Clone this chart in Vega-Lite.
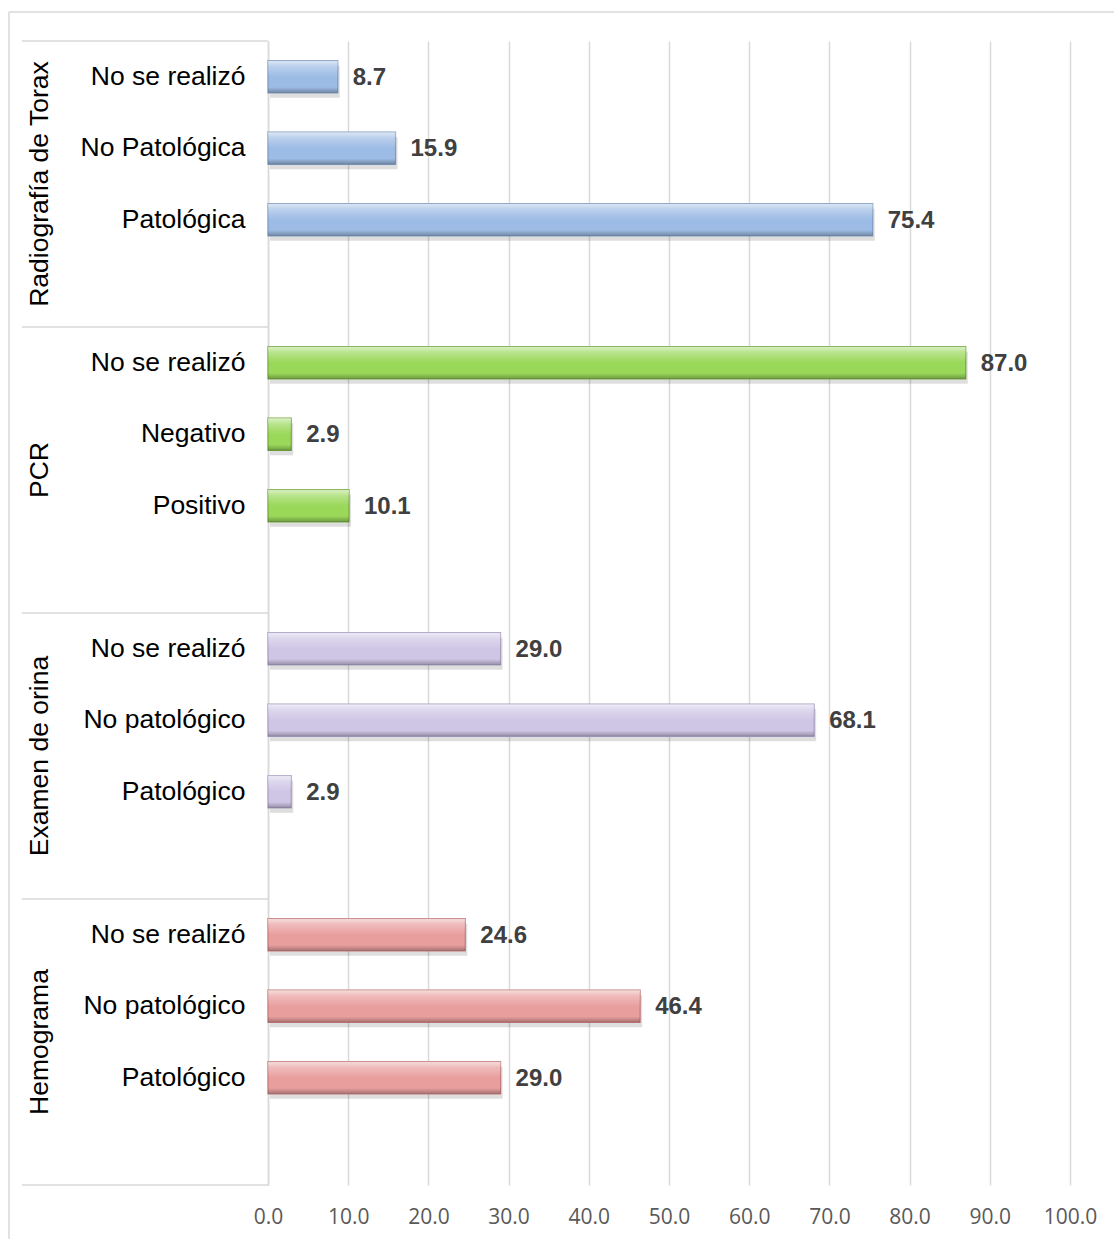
{
  "$schema": "https://vega.github.io/schema/vega-lite/v6.json",
  "autosize": "none",
  "width": 802,
  "height": 1144,
  "padding": {"left": 268, "top": 41, "right": 44, "bottom": 54},
  "background": "white",
  "config": {
    "view": {"stroke": null},
    "font": "Liberation Sans"
  },
  "datasets": {
    "bars": [
      {"group": "Radiografía de Torax", "slot": "Radiografía de Torax · No se realizó", "value": 8.7},
      {"group": "Radiografía de Torax", "slot": "Radiografía de Torax · No Patológica", "value": 15.9},
      {"group": "Radiografía de Torax", "slot": "Radiografía de Torax · Patológica", "value": 75.4},
      {"group": "PCR", "slot": "PCR · No se realizó", "value": 87.0},
      {"group": "PCR", "slot": "PCR · Negativo", "value": 2.9},
      {"group": "PCR", "slot": "PCR · Positivo", "value": 10.1},
      {"group": "Examen de orina", "slot": "Examen de orina · No se realizó", "value": 29.0},
      {"group": "Examen de orina", "slot": "Examen de orina · No patológico", "value": 68.1},
      {"group": "Examen de orina", "slot": "Examen de orina · Patológico", "value": 2.9},
      {"group": "Hemograma", "slot": "Hemograma · No se realizó", "value": 24.6},
      {"group": "Hemograma", "slot": "Hemograma · No patológico", "value": 46.4},
      {"group": "Hemograma", "slot": "Hemograma · Patológico", "value": 29.0}
    ],
    "groups": [
      {"group": "Radiografía de Torax", "first": "Radiografía de Torax · No se realizó", "mid": "Radiografía de Torax · No Patológica"},
      {"group": "PCR", "first": "PCR · No se realizó", "mid": "PCR · Negativo"},
      {"group": "Examen de orina", "first": "Examen de orina · No se realizó", "mid": "Examen de orina · No patológico"},
      {"group": "Hemograma", "first": "Hemograma · No se realizó", "mid": "Hemograma · No patológico"}
    ]
  },
  "layer": [
    {
      "data": {"name": "bars"},
      "encoding": {
        "y": {
          "field": "slot",
          "type": "nominal",
          "title": null,
          "scale": {
            "domain": [
              "Radiografía de Torax · No se realizó", "Radiografía de Torax · No Patológica", "Radiografía de Torax · Patológica", "Radiografía de Torax · ",
              "PCR · No se realizó", "PCR · Negativo", "PCR · Positivo", "PCR · ",
              "Examen de orina · No se realizó", "Examen de orina · No patológico", "Examen de orina · Patológico", "Examen de orina · ",
              "Hemograma · No se realizó", "Hemograma · No patológico", "Hemograma · Patológico", "Hemograma · "
            ],
            "paddingInner": 0,
            "paddingOuter": 0
          },
          "axis": {
            "labelExpr": "split(datum.value, ' · ')[1]",
            "labelFontSize": 26.5,
            "labelColor": "#000000",
            "labelPadding": 23,
            "labelFont": "Liberation Sans",
            "ticks": false,
            "domain": true,
            "domainColor": "#d9d9d9",
            "domainWidth": 1.5,
            "grid": false
          }
        },
        "x": {
          "field": "value",
          "type": "quantitative",
          "title": null,
          "scale": {"domain": [0, 100], "nice": false},
          "axis": {
            "values": [0, 10, 20, 30, 40, 50, 60, 70, 80, 90, 100],
            "format": ".1f",
            "labelFlush": false,
            "grid": true,
            "gridColor": "#d9d9d9",
            "gridWidth": 1.5,
            "domain": false,
            "ticks": false,
            "labelFont": "Open Sans",
            "labelFontSize": 21,
            "labelColor": "#595959",
            "labelPadding": 21
          }
        }
      },
      "layer": [
        {
          "mark": {"type": "bar", "height": {"band": 0.45}, "color": "#000000", "opacity": 0.13, "yOffset": 5, "xOffset": 2}
        },
        {
          "mark": {"type": "bar", "height": {"band": 0.45}, "strokeWidth": 1.2},
          "encoding": {
            "fill": {
              "field": "group",
              "type": "nominal",
              "legend": null,
              "scale": {
                "domain": ["Radiografía de Torax", "PCR", "Examen de orina", "Hemograma"],
                "range": ["#9dbce5", "#9ad85a", "#cfc6e6", "#e99e9e"]
              }
            },
            "stroke": {
              "field": "group",
              "type": "nominal",
              "legend": null,
              "scale": {
                "domain": ["Radiografía de Torax", "PCR", "Examen de orina", "Hemograma"],
                "range": ["#7f9bc1", "#76a840", "#a89dc1", "#c27b7b"]
              }
            }
          }
        },
        {
          "mark": {
            "type": "bar",
            "height": {"band": 0.45},
            "fill": {
              "gradient": "linear",
              "x1": 0, "y1": 0, "x2": 0, "y2": 1,
              "stops": [
                {"offset": 0, "color": "rgba(255,255,255,0.65)"},
                {"offset": 0.18, "color": "rgba(255,255,255,0.3)"},
                {"offset": 0.5, "color": "rgba(255,255,255,0.0)"},
                {"offset": 0.82, "color": "rgba(0,0,0,0.0)"},
                {"offset": 1, "color": "rgba(0,0,0,0.28)"}
              ]
            }
          }
        },
        {
          "mark": {"type": "text", "align": "left", "baseline": "middle", "dx": 15, "dy": 1, "fontSize": 24, "fontWeight": "bold", "color": "#404040", "font": "Liberation Sans"},
          "encoding": {
            "text": {"field": "value", "type": "quantitative", "format": ".1f"}
          }
        }
      ]
    },
    {
      "data": {"name": "groups"},
      "mark": {"type": "text", "angle": 270, "align": "center", "baseline": "middle", "fontSize": 26.5, "color": "#000000", "font": "Liberation Sans"},
      "encoding": {
        "y": {"field": "mid", "type": "nominal", "bandPosition": 1},
        "x": {"datum": -28.4},
        "text": {"field": "group", "type": "nominal"}
      }
    },
    {
      "data": {"name": "groups"},
      "mark": {"type": "rule", "color": "#d9d9d9", "strokeWidth": 1.5},
      "encoding": {
        "y": {"field": "first", "type": "nominal", "bandPosition": 0},
        "x": {"datum": -30.7},
        "x2": {"datum": 0}
      }
    },
    {
      "data": {"values": [{"last": "Hemograma · "}]},
      "mark": {"type": "rule", "color": "#d9d9d9", "strokeWidth": 1.5},
      "encoding": {
        "y": {"field": "last", "type": "nominal", "bandPosition": 1},
        "x": {"datum": -30.7},
        "x2": {"datum": 0}
      }
    },
    {
      "data": {"values": [{"top": "Radiografía de Torax · No se realizó"}]},
      "mark": {"type": "rule", "color": "#d9d9d9", "strokeWidth": 1.5, "yOffset": -29},
      "encoding": {
        "y": {"field": "top", "type": "nominal", "bandPosition": 0},
        "x": {"datum": -32.3},
        "x2": {"datum": 106}
      }
    },
    {
      "data": {"values": [{"top": "Radiografía de Torax · No se realizó", "last": "Hemograma · "}]},
      "mark": {"type": "rule", "color": "#d9d9d9", "strokeWidth": 1.5, "yOffset": -29, "y2Offset": 60},
      "encoding": {
        "y": {"field": "top", "type": "nominal", "bandPosition": 0},
        "y2": {"field": "last", "bandPosition": 1},
        "x": {"datum": -32.3}
      }
    }
  ]
}
